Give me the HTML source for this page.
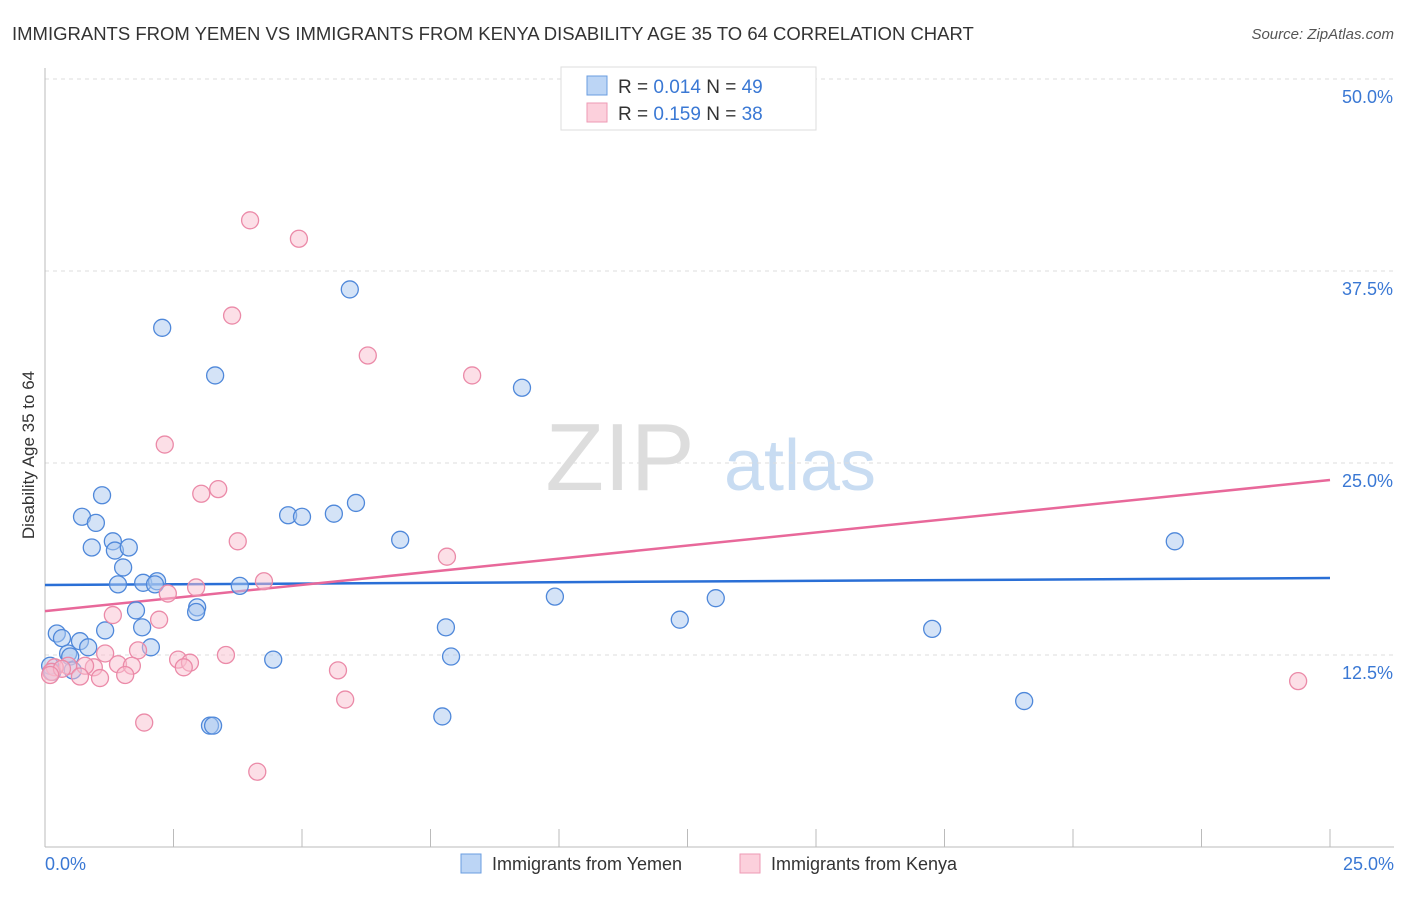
<!DOCTYPE html>
<html><head><meta charset="utf-8"><style>
body{margin:0;background:#fff;font-family:"Liberation Sans",sans-serif;}
svg text{font-family:"Liberation Sans",sans-serif;}
</style></head><body>
<svg id="chart" width="1406" height="892">
<text x="12" y="40" font-size="18.5" fill="#333">IMMIGRANTS FROM YEMEN VS IMMIGRANTS FROM KENYA DISABILITY AGE 35 TO 64 CORRELATION CHART</text>
<text x="1394" y="39" font-size="15" fill="#555" text-anchor="end" font-style="italic">Source: ZipAtlas.com</text>
<text x="620" y="490" font-size="96" fill="#ddd" font-family="Liberation Serif" text-anchor="middle">ZIP</text>
<text x="800" y="490" font-size="72" fill="#c8dcf2" text-anchor="middle">atlas</text>
<g id="grid"></g>
<g id="axes"></g>
<g id="lines"></g>
<g id="points"></g>
<text transform="translate(34,455) rotate(-90)" font-size="17" fill="#333" text-anchor="middle">Disability Age 35 to 64</text>
<text x="45" y="870" font-size="18" fill="#3a78d4">0.0%</text>
<text x="1394" y="870" font-size="18" fill="#3a78d4" text-anchor="end">25.0%</text>
<g>
<rect x="561" y="67" width="255" height="63" fill="#fff" stroke="#ddd"/>
<rect x="587" y="76" width="20" height="19" fill="#bcd5f5" stroke="#6a9de0"/>
<rect x="587" y="103" width="20" height="19" fill="#fcd0dc" stroke="#ee9ab4"/>
<text x="618" y="93" font-size="19" fill="#333">R = <tspan fill="#3a78d4">0.014</tspan>   N = <tspan fill="#3a78d4">49</tspan></text>
<text x="618" y="120" font-size="19" fill="#333">R =  <tspan fill="#3a78d4">0.159</tspan>   N = <tspan fill="#3a78d4">38</tspan></text>
</g>
<g>
<rect x="461" y="854" width="20" height="19" fill="#bcd5f5" stroke="#6a9de0"/>
<text x="492" y="870" font-size="18" fill="#333">Immigrants from Yemen</text>
<rect x="740" y="854" width="20" height="19" fill="#fcd0dc" stroke="#ee9ab4"/>
<text x="771" y="870" font-size="18" fill="#333">Immigrants from Kenya</text>
</g>
</svg>
<script>
const yTicks=[12.5,25,37.5,50];
const yTickLabels=["12.5%","25.0%","37.5%","50.0%"];
const xTicks=[0,2.5,5,7.5,10,12.5,15,17.5,20,22.5,25];
const yemenX=[2.28,5.93,3.31,9.28,1.11,0.72,0.99,4.73,5.00,5.62,6.05,0.91,1.32,1.36,1.63,6.91,21.98,1.52,1.42,1.91,2.18,2.14,3.79,1.77,2.96,2.94,9.92,13.05,1.17,1.89,7.80,12.35,17.26,0.23,0.33,0.68,0.84,2.06,0.45,0.49,7.90,4.44,0.10,0.14,0.54,7.73,3.21,3.27,19.05];
const yemenY=[33.8,36.3,30.7,29.9,22.9,21.5,21.1,21.6,21.5,21.7,22.4,19.5,19.9,19.3,19.5,20.0,19.9,18.2,17.1,17.2,17.3,17.1,17.0,15.4,15.6,15.3,16.3,16.2,14.1,14.3,14.3,14.8,14.2,13.9,13.6,13.4,13.0,13.0,12.6,12.4,12.4,12.2,11.8,11.4,11.5,8.5,7.9,7.9,9.5];
const kenyaX=[3.99,4.94,3.64,6.28,8.31,2.33,3.04,3.37,3.75,7.82,4.26,2.94,2.39,1.32,2.22,1.81,1.17,3.52,2.59,2.82,2.70,1.42,1.69,0.95,0.78,0.45,1.56,1.07,0.68,0.19,0.12,0.33,5.70,24.38,5.84,1.93,4.13,0.10];
const kenyaY=[40.8,39.6,34.6,32.0,30.7,26.2,23.0,23.3,19.9,18.9,17.3,16.9,16.5,15.1,14.8,12.8,12.6,12.5,12.2,12.0,11.7,11.9,11.8,11.7,11.8,11.8,11.2,11.0,11.1,11.7,11.4,11.6,11.5,10.8,9.6,8.1,4.9,11.2];
const yemenTrend=[17.06,17.51];
const kenyaTrend=[15.36,23.89];
const NS="http://www.w3.org/2000/svg";
function sx(v){return 45+v/25*1285;}
function sy(v){return 847-v/12.5*192;}
function mk(t,a,p){const e=document.createElementNS(NS,t);for(const k in a)e.setAttribute(k,a[k]);p.appendChild(e);return e;}
const grid=document.getElementById('grid'),axes=document.getElementById('axes'),lines=document.getElementById('lines'),pts=document.getElementById('points');
yTicks.forEach((t,i)=>{
 const l=mk('line',{x1:45,x2:1394,y1:sy(t),y2:sy(t),stroke:'#ddd','stroke-dasharray':'4,4'},grid);
 
 
 const tx=mk('text',{x:1393,y:sy(t)+24,'font-size':18,fill:'#3a78d4','text-anchor':'end'},grid);
 tx.textContent=yTickLabels[i];
 
 
});
const ax=mk('line',{x1:45,x2:45,y1:68,y2:847,stroke:'#bbb'},axes);


const bx=mk('line',{x1:45,x2:1394,y1:847,y2:847,stroke:'#bbb'},axes);


xTicks.forEach(t=>{
 const l=mk('line',{x1:sx(t),x2:sx(t),y1:829,y2:847,stroke:'#bbb'},axes);
 
 
});
function dots(X,Y,fill,stroke,name){
 X.forEach((x,i)=>{
  const c=mk('circle',{cx:sx(x),cy:sy(Y[i]),r:8.5,fill:fill,'fill-opacity':0.5,stroke:stroke,'stroke-width':1.3},pts);
  
  
 });
}
dots(yemenX,yemenY,'#a9c8f0','#4f88da','yemen-point');
dots(kenyaX,kenyaY,'#f9bfcf','#eb8aa8','kenya-point');
const t1=mk('line',{x1:sx(0),x2:sx(25),y1:sy(yemenTrend[0]),y2:sy(yemenTrend[1]),stroke:'#2a6fd6','stroke-width':2.5},lines);


const t2=mk('line',{x1:sx(0),x2:sx(25),y1:sy(kenyaTrend[0]),y2:sy(kenyaTrend[1]),stroke:'#e8689a','stroke-width':2.5},lines);


</script>
</body></html>
